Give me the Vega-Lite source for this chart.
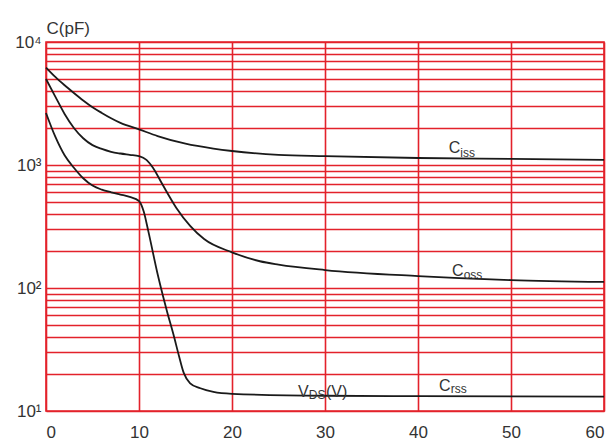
{
  "$schema": "https://vega.github.io/schema/vega-lite/v6.json",
  "width": 558,
  "height": 369,
  "autosize": {"type": "none"},
  "padding": {"left": 46, "top": 42, "right": 9, "bottom": 30},
  "background": "white",
  "config": {
    "view": {"stroke": "#e3222b", "strokeWidth": 1.6},
    "font": "Liberation Sans"
  },
  "datasets": {
    "curves": [
      {"s": "Ciss", "v": 0, "c": 6200}, {"s": "Ciss", "v": 1, "c": 5200}, {"s": "Ciss", "v": 2, "c": 4450},
      {"s": "Ciss", "v": 3, "c": 3850}, {"s": "Ciss", "v": 4, "c": 3350}, {"s": "Ciss", "v": 5, "c": 2950},
      {"s": "Ciss", "v": 6, "c": 2650}, {"s": "Ciss", "v": 7, "c": 2400}, {"s": "Ciss", "v": 8, "c": 2200},
      {"s": "Ciss", "v": 10, "c": 1950}, {"s": "Ciss", "v": 12, "c": 1720}, {"s": "Ciss", "v": 15, "c": 1490},
      {"s": "Ciss", "v": 18, "c": 1360}, {"s": "Ciss", "v": 20, "c": 1300}, {"s": "Ciss", "v": 25, "c": 1210},
      {"s": "Ciss", "v": 30, "c": 1180}, {"s": "Ciss", "v": 40, "c": 1140}, {"s": "Ciss", "v": 50, "c": 1120},
      {"s": "Ciss", "v": 60, "c": 1100},
      {"s": "Coss", "v": 0, "c": 5000}, {"s": "Coss", "v": 1, "c": 3600}, {"s": "Coss", "v": 2, "c": 2600},
      {"s": "Coss", "v": 3, "c": 2000}, {"s": "Coss", "v": 4, "c": 1650}, {"s": "Coss", "v": 5, "c": 1450},
      {"s": "Coss", "v": 6, "c": 1350}, {"s": "Coss", "v": 7, "c": 1280}, {"s": "Coss", "v": 8, "c": 1240},
      {"s": "Coss", "v": 9, "c": 1210}, {"s": "Coss", "v": 10, "c": 1180}, {"s": "Coss", "v": 10.8, "c": 1100},
      {"s": "Coss", "v": 11.5, "c": 950}, {"s": "Coss", "v": 12.5, "c": 700}, {"s": "Coss", "v": 14, "c": 450},
      {"s": "Coss", "v": 15.5, "c": 320}, {"s": "Coss", "v": 17, "c": 250}, {"s": "Coss", "v": 20, "c": 195},
      {"s": "Coss", "v": 23, "c": 165}, {"s": "Coss", "v": 25, "c": 155}, {"s": "Coss", "v": 30, "c": 140},
      {"s": "Coss", "v": 40, "c": 125}, {"s": "Coss", "v": 50, "c": 116}, {"s": "Coss", "v": 60, "c": 112},
      {"s": "Crss", "v": 0, "c": 2650}, {"s": "Crss", "v": 1, "c": 1700}, {"s": "Crss", "v": 2, "c": 1200},
      {"s": "Crss", "v": 3, "c": 950}, {"s": "Crss", "v": 4, "c": 780}, {"s": "Crss", "v": 5, "c": 680},
      {"s": "Crss", "v": 6, "c": 630}, {"s": "Crss", "v": 7, "c": 600}, {"s": "Crss", "v": 8, "c": 575},
      {"s": "Crss", "v": 9, "c": 550}, {"s": "Crss", "v": 10, "c": 510}, {"s": "Crss", "v": 10.5, "c": 420},
      {"s": "Crss", "v": 11, "c": 290}, {"s": "Crss", "v": 12, "c": 130}, {"s": "Crss", "v": 12.6, "c": 85},
      {"s": "Crss", "v": 13, "c": 65}, {"s": "Crss", "v": 13.7, "c": 42}, {"s": "Crss", "v": 14.3, "c": 28},
      {"s": "Crss", "v": 14.8, "c": 20.5}, {"s": "Crss", "v": 15.5, "c": 16.8}, {"s": "Crss", "v": 16.6, "c": 15.3},
      {"s": "Crss", "v": 18, "c": 14.3}, {"s": "Crss", "v": 20, "c": 13.8}, {"s": "Crss", "v": 30, "c": 13.3},
      {"s": "Crss", "v": 40, "c": 13.2}, {"s": "Crss", "v": 60, "c": 13.1}
    ],
    "labelsMain": [
      {"v": 43.3, "c": 1362, "t": "C"},
      {"v": 43.66, "c": 137.5, "t": "C"},
      {"v": 42.26, "c": 15.96, "t": "C"},
      {"v": 27.1, "c": 14.27, "t": "V"},
      {"v": 30.1, "c": 14.27, "t": "(V)"}
    ],
    "labelsSub": [
      {"v": 44.55, "c": 1253, "t": "iss"},
      {"v": 44.91, "c": 127.7, "t": "oss"},
      {"v": 43.51, "c": 15.1, "t": "rss"},
      {"v": 28.25, "c": 13.5, "t": "DS"}
    ]
  },
  "layer": [
    {
      "data": {"name": "curves"},
      "mark": {"type": "line", "interpolate": "monotone", "color": "#1a1a1a", "strokeWidth": 1.8},
      "encoding": {
        "x": {
          "field": "v", "type": "quantitative",
          "scale": {"domain": [0, 60], "nice": false},
          "axis": {
            "values": [0, 10, 20, 30, 40, 50, 60],
            "title": null, "domain": false, "ticks": false,
            "grid": true, "gridColor": "#e3222b", "gridWidth": 1.6, "gridOpacity": 1,
            "labelFontSize": 17, "labelColor": "#333333", "labelPadding": 13,
            "labelFont": "Liberation Sans"
          }
        },
        "y": {
          "field": "c", "type": "quantitative",
          "scale": {"type": "log", "domain": [10, 10000], "nice": false},
          "axis": {
            "values": [10, 20, 30, 40, 50, 60, 70, 80, 90, 100, 200, 300, 400, 500, 600, 700, 800, 900, 1000, 2000, 3000, 4000, 5000, 6000, 7000, 8000, 9000, 10000],
            "labelExpr": "datum.value == 10 ? '10¹' : datum.value == 100 ? '10²' : datum.value == 1000 ? '10³' : datum.value == 10000 ? '10⁴' : ''",
            "domain": false, "ticks": false,
            "grid": true, "gridColor": "#e3222b", "gridWidth": 1.6, "gridOpacity": 1,
            "labelFontSize": 17, "labelColor": "#333333", "labelPadding": 5,
            "labelFont": "Liberation Sans",
            "title": "C(pF)", "titleAngle": 0, "titleX": 0, "titleY": -9,
            "titleAlign": "left", "titleBaseline": "alphabetic",
            "titleFontSize": 17, "titleFontWeight": "normal", "titleColor": "#333333",
            "titleFont": "Liberation Sans"
          }
        },
        "detail": {"field": "s"}
      }
    },
    {
      "data": {"name": "labelsMain"},
      "mark": {"type": "text", "align": "left", "baseline": "middle", "fontSize": 16, "color": "#333333"},
      "encoding": {
        "x": {"field": "v", "type": "quantitative"},
        "y": {"field": "c", "type": "quantitative"},
        "text": {"field": "t"}
      }
    },
    {
      "data": {"name": "labelsSub"},
      "mark": {"type": "text", "align": "left", "baseline": "middle", "fontSize": 12, "color": "#333333"},
      "encoding": {
        "x": {"field": "v", "type": "quantitative"},
        "y": {"field": "c", "type": "quantitative"},
        "text": {"field": "t"}
      }
    }
  ]
}
